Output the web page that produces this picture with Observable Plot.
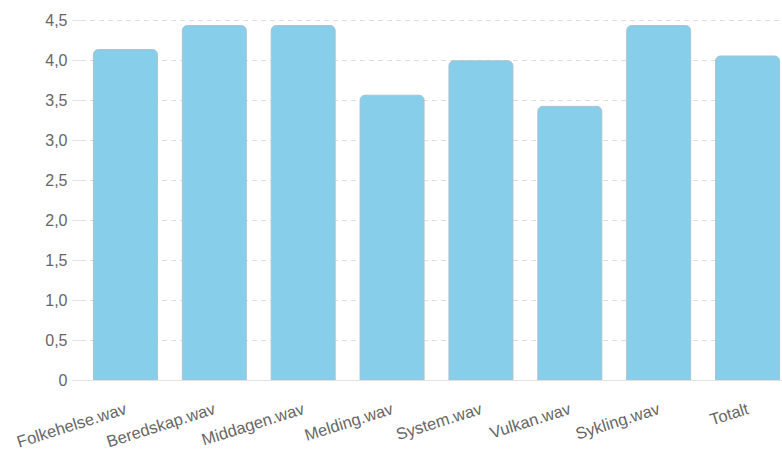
<!DOCTYPE html>
<html>
<head>
<meta charset="utf-8">
<script src="https://cdn.jsdelivr.net/npm/d3@7"></script>
<script src="https://cdn.jsdelivr.net/npm/@observablehq/plot@0.6"></script>
<style>
  html, body { margin: 0; padding: 0; background: #fff; overflow: hidden; }
  #chart svg { display: block; font-family: "Helvetica Neue", Helvetica, "Liberation Sans", Arial, sans-serif; }
</style>
</head>
<body>
<div id="chart"></div>
<script>
const categories = ["Folkehelse.wav", "Beredskap.wav", "Middagen.wav", "Melding.wav", "System.wav", "Vulkan.wav", "Sykling.wav", "Totalt"];
const values = [4.13, 4.43, 4.43, 3.56, 3.99, 3.42, 4.43, 4.05];
const yTicks = [0, 0.5, 1, 1.5, 2, 2.5, 3, 3.5, 4, 4.5];

const data = categories.map((c, i) => ({category: c, value: values[i]}));
const fmt = d => d === 0 ? "0" : d.toFixed(1).replace(".", ",");

const chart = Plot.plot({
  width: 782,
  height: 456,
  marginLeft: 81,
  marginRight: 0,
  marginTop: 20,
  marginBottom: 76,
  style: {fontSize: "16px", color: "#666", overflow: "hidden"},
  x: {domain: categories, range: [81, 792], round: false, paddingInner: 0.28, paddingOuter: 0.14, label: null},
  y: {domain: [0, 4.5], label: null},
  marks: [
    Plot.gridY(yTicks.filter(d => d > 0), {stroke: "#dedede", strokeOpacity: 1, strokeDasharray: "5,4", strokeWidth: 1}),
    Plot.barY(data, {x: "category", y: "value", fill: "#87ceeb", stroke: "#a9c2ce", strokeWidth: 1, ry1: 5}),
    Plot.ruleX([0], {frameAnchor: "left", stroke: "#e2e2e2"}),
    Plot.axisY({ticks: yTicks, tickFormat: fmt, tickSize: 9, tickPadding: 5, stroke: "#e2e2e2", fill: "#666", fontSize: 16}),
    Plot.axisX({tickSize: 0, tickPadding: 28, tickRotate: -17.5, fill: "#666", fontSize: 16.5, textAnchor: "end"}),
    Plot.ruleY([0], {stroke: "#e2e2e2"})
  ]
});
document.getElementById("chart").appendChild(chart);
</script>
</body>
</html>
